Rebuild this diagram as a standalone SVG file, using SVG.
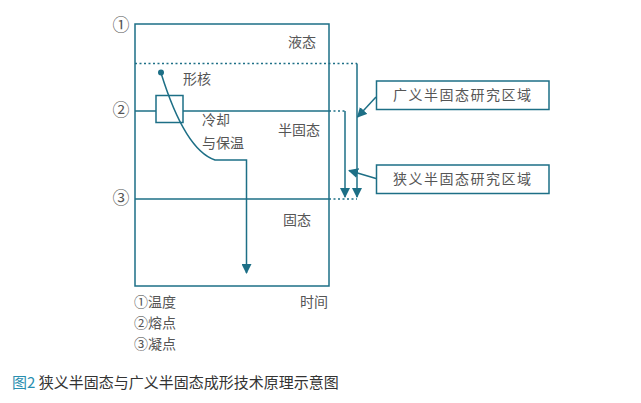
<svg xmlns="http://www.w3.org/2000/svg" width="641" height="403" viewBox="0 0 641 403">
<defs>
<style>
.ln{stroke:#1d6f86;stroke-width:1.5;fill:none}
.dt{stroke:#1d6f86;stroke-width:1.3;fill:none;stroke-dasharray:2,2.5}
.t{font-family:"Noto Sans CJK SC","Liberation Sans",sans-serif;font-size:14px;fill:#555}
.c{font-family:"Liberation Serif","Noto Sans CJK SC",serif;font-size:17px;fill:#555}
.box{fill:#fff;stroke:#1d6f86;stroke-width:1.5}
</style>
<marker id="ah" viewBox="0 0 10 10" refX="9" refY="5" markerWidth="10" markerHeight="10" markerUnits="userSpaceOnUse" orient="auto">
<path d="M0,0 L10,5 L0,10 z" fill="#1d6f86"/>
</marker>
</defs>
<rect width="641" height="403" fill="#fff"/>
<g id="frame">
<rect x="135" y="24" width="194" height="262" class="ln"/>
<line x1="135" y1="111" x2="329" y2="111" class="ln"/>
<line x1="135" y1="199" x2="329" y2="199" class="ln"/>
</g>
<g id="nucleus">
<rect x="156" y="95.5" width="27" height="27" class="box"/>
</g>
<g id="connectors">
<line x1="135" y1="63.5" x2="357" y2="63.5" class="dt"/>
<line x1="329" y1="111" x2="345" y2="111" class="dt"/>
<line x1="329" y1="199" x2="357" y2="199" class="dt"/>
<line x1="345" y1="111" x2="345" y2="197" class="ln" marker-end="url(#ah)"/>
<line x1="357" y1="63.5" x2="357" y2="197" class="ln" marker-end="url(#ah)"/>
<path d="M161,73 Q185,150 215,160 L246.5,160 L246.5,273" class="ln" marker-end="url(#ah)"/>
<line x1="376" y1="97" x2="357.5" y2="117" class="ln" marker-end="url(#ah)"/>
<line x1="376" y1="178.5" x2="349" y2="170.5" class="ln" marker-end="url(#ah)"/>
<circle cx="161" cy="72.5" r="3" fill="#1d6f86"/>
</g>
<g id="broad">
<rect x="376.5" y="81" width="172.5" height="28.5" class="box"/>
<text x="462.75" y="100" text-anchor="middle" class="t" letter-spacing="1.5">广义半固态研究区域</text>
</g>
<g id="narrow">
<rect x="376.5" y="165" width="172.5" height="28.5" class="box"/>
<text x="462.75" y="184" text-anchor="middle" class="t" letter-spacing="1.5">狭义半固态研究区域</text>
</g>
<g id="labels">
<text x="121" y="31" text-anchor="middle" class="c">①</text>
<text x="121" y="116" text-anchor="middle" class="c">②</text>
<text x="121" y="204" text-anchor="middle" class="c">③</text>
<text x="302" y="47" text-anchor="middle" class="t">液态</text>
<text x="197" y="84" text-anchor="middle" class="t">形核</text>
<text x="202" y="125" class="t">冷却</text>
<text x="202" y="148" class="t">与保温</text>
<text x="299" y="135" text-anchor="middle" class="t">半固态</text>
<text x="297" y="225" text-anchor="middle" class="t">固态</text>
<text x="314" y="307" text-anchor="middle" class="t">时间</text>
<text x="134" y="307" class="t">①温度</text>
<text x="134" y="328" class="t">②熔点</text>
<text x="134" y="349" class="t">③凝点</text>
</g>
<g id="caption">
<text x="12" y="388" font-family="Noto Sans CJK SC,Liberation Sans,sans-serif" font-size="15" fill="#333"><tspan fill="#2a8fb0">图2</tspan> 狭义半固态与广义半固态成形技术原理示意图</text>
</g>
</svg>
